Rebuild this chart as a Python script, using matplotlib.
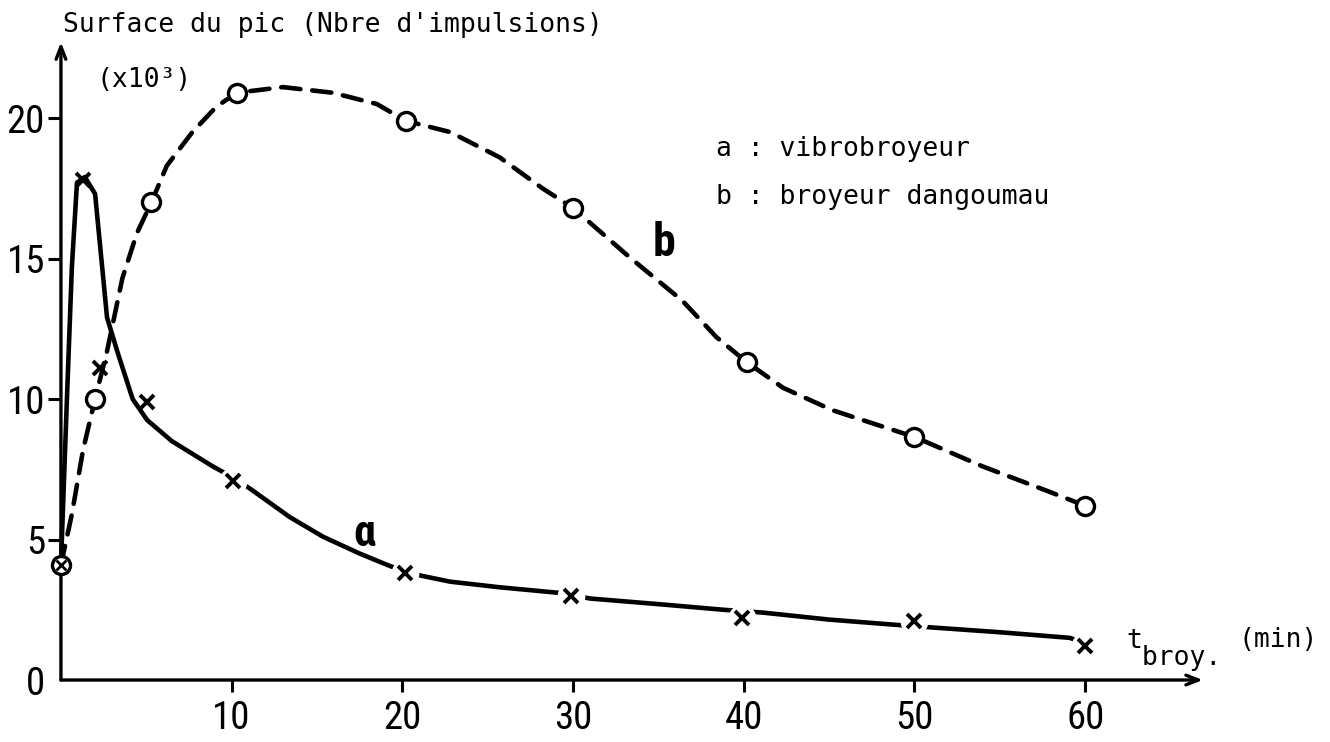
import matplotlib.pyplot as plt
from matplotlib import font_manager

a_t = [0, 1.3, 2.3, 5.05, 10.1, 20.15, 29.9, 39.9, 50.0, 60.0]
a_val = [4.1, 17.8, 11.1, 9.9, 7.1, 3.8, 3.0, 2.2, 2.1, 1.2]
b_t = [0, 2.0, 5.3, 10.3, 20.2, 30.0, 40.2, 50.0, 60.0]
b_val = [4.1, 10.0, 17.0, 20.9, 19.9, 16.8, 11.3, 8.65, 6.2]

# Courbes tracees a la main (points lus le long des traits)
curve_a_t = [0, 0.35, 0.64, 0.94, 1.4, 2.0, 2.7, 3.35, 4.2, 5.05, 6.5, 8.9, 10.1, 11.1,
             13.4, 15.35, 17.5, 19.1, 20.15, 21.2, 22.8, 25.7, 29.2, 31.0, 35.0,
             38.8, 41.1, 45.0, 49.2, 51.5, 55.0, 59.1, 60.0]
curve_a_y = [4.1, 10.0, 14.7, 17.7, 17.9, 17.3, 12.9, 11.6, 10.0, 9.25, 8.5, 7.6, 7.2, 6.8,
             5.8, 5.1, 4.5, 4.1, 3.85, 3.7, 3.5, 3.3, 3.1, 2.9, 2.7,
             2.5, 2.4, 2.15, 1.95, 1.85, 1.7, 1.5, 1.3]
curve_b_t = [0, 0.64, 1.3, 2.0, 2.7, 3.6, 4.45, 5.3, 6.2, 7.7, 9.1, 10.3, 13.0, 15.9,
             18.5, 20.2, 22.8, 25.7, 28.2, 30.0, 33.3, 36.4, 38.4, 40.2, 42.3, 45.2,
             50.0, 54.0, 57.9, 60.0]
curve_b_y = [4.1, 5.9, 8.2, 10.0, 11.7, 14.3, 15.9, 17.0, 18.3, 19.5, 20.4, 20.9, 21.1, 20.9,
             20.5, 19.9, 19.5, 18.6, 17.5, 16.8, 15.05, 13.5, 12.2, 11.3, 10.4, 9.6,
             8.65, 7.6, 6.7, 6.2]

x_ticks = [10, 20, 30, 40, 50, 60]
y_ticks = [0, 5, 10, 15, 20]

# polices : une police etroite si possible pour les chiffres
noms = {f.name for f in font_manager.fontManager.ttflist}
police_chiffres = 'DejaVu Sans'
for nom in ['Liberation Sans Narrow', 'Roboto Condensed', 'Open Sans Condensed']:
    if nom in noms:
        police_chiffres = nom
        break
police_mono = 'DejaVu Sans Mono'

fig = plt.figure(figsize=(13.3, 7.42), dpi=100)
ax = fig.add_axes([0, 0, 1, 1])
ax.set_xlim(-3.57, 74.34)
ax.set_ylim(-2.206, 24.2)

# les axes passent par l'origine (a faire avant les graduations)
ax.spines['bottom'].set_position(('data', 0))
ax.spines['left'].set_position(('data', 0))
for s in ax.spines.values():
    s.set_visible(False)

# axes avec fleches
ax.annotate('', xy=(66.9, 0), xytext=(0, 0),
            arrowprops=dict(arrowstyle='->,head_length=0.9,head_width=0.35', lw=2.4, color='black',
                            shrinkA=0, shrinkB=0))
ax.annotate('', xy=(0, 22.7), xytext=(0, 0),
            arrowprops=dict(arrowstyle='->,head_length=0.9,head_width=0.35', lw=2.4, color='black',
                            shrinkA=0, shrinkB=0))

ax.xaxis.set_ticks_position('bottom')
ax.yaxis.set_ticks_position('left')
ax.set_xticks(x_ticks)
ax.set_yticks(y_ticks)
ax.set_xticklabels([str(v) for v in x_ticks])
ax.set_yticklabels([str(v) for v in y_ticks])
ax.tick_params(axis='x', direction='out', length=8.5, width=2.2, pad=6)
ax.tick_params(axis='y', direction='out', length=9.5, width=2.2, pad=2)
for lab in ax.get_xticklabels() + ax.get_yticklabels():
    lab.set_fontfamily(police_chiffres)
    lab.set_fontstretch('condensed')
    lab.set_fontsize(28)
ax.yaxis.get_major_ticks()[0].tick1line.set_visible(False)

# courbe a : trait plein
ax.plot(curve_a_t, curve_a_y, color='black', lw=3.3, solid_capstyle='round', zorder=2)
# courbe b : tirets
ax.plot(curve_b_t, curve_b_y, color='black', lw=3.3, linestyle=(0, (4.2, 2.6)),
        dash_capstyle='round', zorder=2)

# interruptions du trait autour des croix
halo_t = [t for t in a_t if t >= 10]
halo_v = [v for t, v in zip(a_t, a_val) if t >= 10]
ax.plot(halo_t, halo_v, linestyle='none', marker='o', markersize=20,
        markerfacecolor='white', markeredgecolor='none', zorder=3)

ax.plot(a_t, a_val, linestyle='none', marker='x', markersize=10, markeredgewidth=2.8,
        color='black', zorder=4)
ax.plot(b_t, b_val, linestyle='none', marker='o', markersize=13, markeredgewidth=2.4,
        markerfacecolor='white', markeredgecolor='black', zorder=4)
# origine : cercle + croix
ax.plot([a_t[0]], [a_val[0]], linestyle='none', marker='x', markersize=7, markeredgewidth=2,
        color='black', zorder=5)

# textes
ax.text(0.1, 23.3, "Surface du pic (Nbre d'impulsions)", fontfamily=police_mono,
        fontsize=19, ha='left', va='center')
ax.text(2.1, 21.35, "(x10³)", fontfamily=police_mono, fontsize=19, ha='left', va='center')
ax.text(38.4, 18.9, "a : vibrobroyeur", fontfamily=police_mono, fontsize=19,
        ha='left', va='center')
ax.text(38.4, 17.2, "b : broyeur dangoumau", fontfamily=police_mono, fontsize=19,
        ha='left', va='center')
ax.text(62.4, 1.85, "t\n broy.", fontfamily=police_mono, fontsize=19, ha='left',
        va='top', linespacing=0.55)
ax.text(69.0, 1.42, "(min)", fontfamily=police_mono, fontsize=19, ha='left', va='center')

ax.text(17.8, 5.2, "ɑ", fontfamily=[police_chiffres, 'DejaVu Sans'], fontsize=32,
        fontweight='bold', ha='center', va='center')
ax.text(35.3, 15.55, "b", fontfamily=police_chiffres, fontsize=33, fontweight='bold',
        ha='center', va='center')

fig.savefig('out.png', dpi=100)
